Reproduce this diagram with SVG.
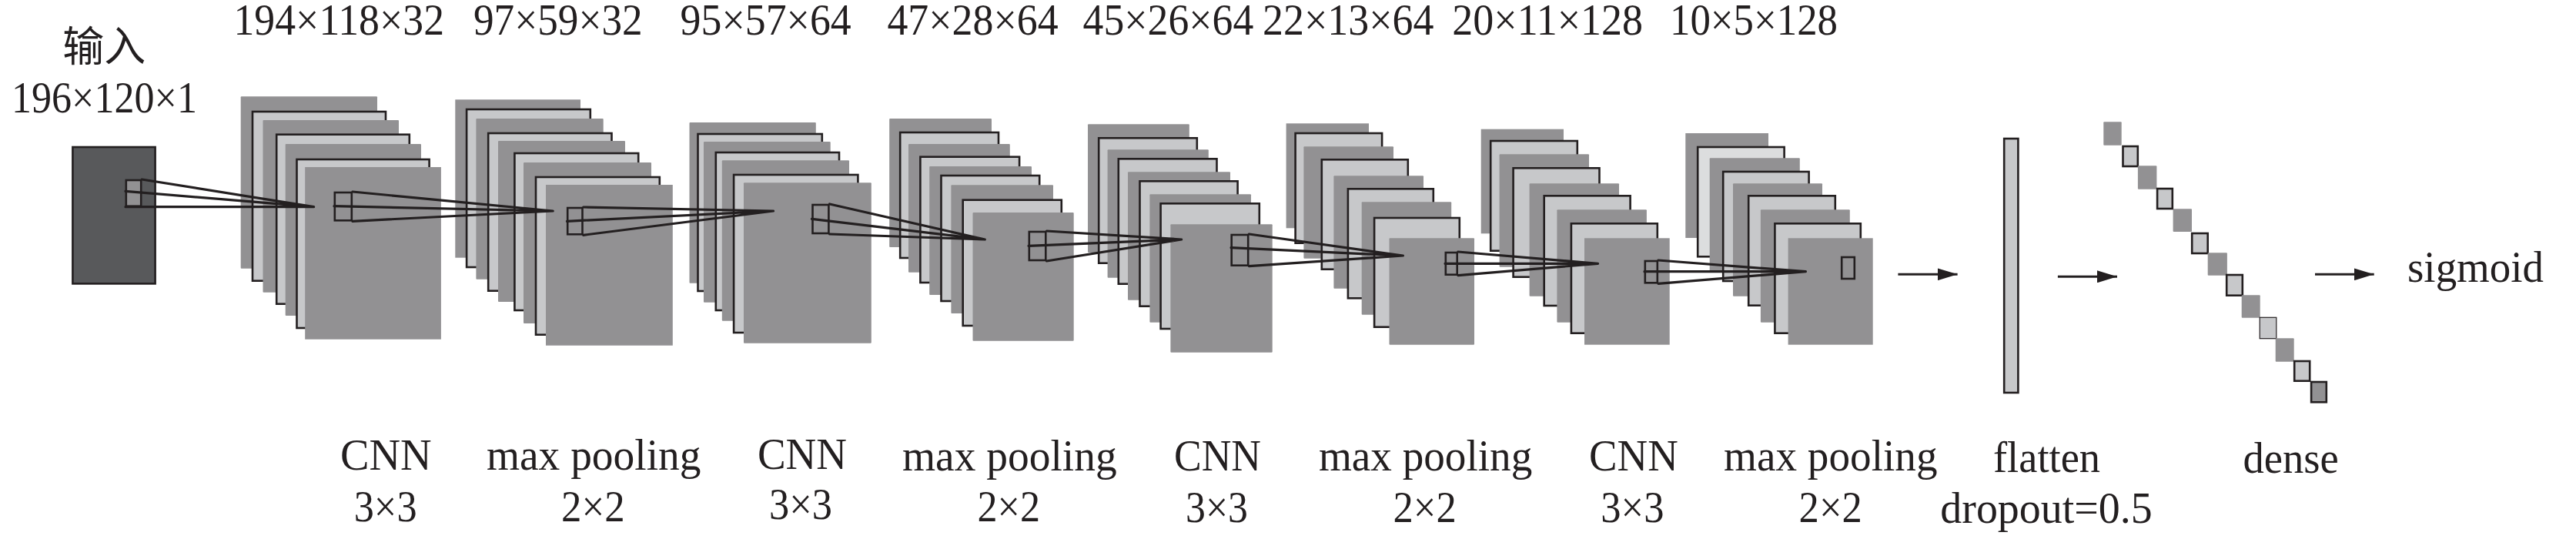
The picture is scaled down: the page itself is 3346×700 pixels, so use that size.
<svg xmlns="http://www.w3.org/2000/svg" width="3346" height="700" viewBox="0 0 3346 700">
<style>
.bg{fill:#fff}
.d{fill:#929193}
.l{fill:#c7c8ca;stroke:#231f20;stroke-width:2.6}
.xl{fill:#dcddde;stroke:#231f20;stroke-width:2.6}
.k{fill:#929193;stroke:#231f20;stroke-width:2.6}
.in{fill:#58595b;stroke:#231f20;stroke-width:2.6}
.thin{fill:#c7c8ca;stroke:#231f20;stroke-width:1.2}
.w{fill:none;stroke:#231f20;stroke-width:3.2;stroke-linecap:round}
.a{fill:none;stroke:#231f20;stroke-width:3;marker-end:url(#ah)}
text{font-family:"Liberation Serif","Noto Sans CJK SC",serif;font-size:56px;fill:#231f20}
.cjk{font-family:"Noto Sans CJK SC","Liberation Serif",serif;font-size:54px}
</style>
<defs><marker id="ah" markerUnits="userSpaceOnUse" markerWidth="26" markerHeight="16" refX="26" refY="8" orient="auto"><path d="M0 0L26 8L0 16Z" fill="#231f20"/></marker></defs>
<rect class="bg" width="3346" height="700"/>

<g id="input">
<rect class="in" x="94.4" y="191" width="107.2" height="177.4"/>
<rect class="k" x="163.8" y="234" width="19.4" height="33.7"/>
</g>

<g id="stack1">
<rect class="d" x="312.7" y="125.3" width="177.3" height="223.4" rx="1"/>
<rect class="l" x="328" y="145" width="173" height="219.7"/>
<rect class="d" x="341.5" y="156" width="176.5" height="223.7" rx="1"/>
<rect class="l" x="359.2" y="174.7" width="172.6" height="220"/>
<rect class="d" x="370.7" y="187" width="176.3" height="223" rx="1"/>
<rect class="l" x="385.5" y="207" width="172.1" height="219"/>
<rect class="d" x="396.2" y="217" width="176.7" height="223.7"/>
<rect class="k" x="434.8" y="250" width="22" height="36.3"/>
</g>

<g id="stack2">
<rect class="d" x="591.3" y="129.3" width="162.7" height="205.4"/>
<rect class="l" x="606.1" y="142" width="160.7" height="205"/>
<rect class="d" x="618.4" y="154" width="165.3" height="208.7" rx="1"/>
<rect class="l" x="634.2" y="173" width="160.3" height="204.7"/>
<rect class="d" x="647" y="183" width="165" height="209" rx="1"/>
<rect class="l" x="668.4" y="199" width="160.8" height="204"/>
<rect class="d" x="680" y="211" width="166" height="209" rx="1"/>
<rect class="l" x="696" y="230" width="160.8" height="204.7"/>
<rect class="d" x="709" y="240" width="164.8" height="208.7"/>
<rect class="k" x="737.2" y="270" width="19.3" height="34.3"/>
</g>

<g id="stack3">
<rect class="d" x="895.5" y="159" width="164.3" height="208.7" rx="1"/>
<rect class="l" x="906.5" y="174" width="161.3" height="204"/>
<rect class="d" x="914" y="184" width="164.7" height="208.7" rx="1"/>
<rect class="l" x="929.8" y="198" width="160.2" height="205"/>
<rect class="d" x="937.8" y="208.3" width="165.2" height="208.4" rx="1"/>
<rect class="l" x="953.1" y="227" width="161.3" height="205"/>
<rect class="d" x="966" y="237.3" width="165.8" height="208.4" rx="1"/>
<rect class="k" x="1055.5" y="266" width="20.9" height="37"/>
</g>

<g id="stack4">
<rect class="d" x="1155.2" y="154" width="132.8" height="167" rx="1"/>
<rect class="l" x="1169.2" y="172" width="127.8" height="163"/>
<rect class="d" x="1180" y="187" width="131.8" height="166.7" rx="1"/>
<rect class="l" x="1195.4" y="203.7" width="128.7" height="163.3"/>
<rect class="d" x="1207.2" y="216" width="132.8" height="167" rx="1"/>
<rect class="l" x="1222.5" y="228" width="127.7" height="163"/>
<rect class="d" x="1235.4" y="240.3" width="132.6" height="166.7" rx="1"/>
<rect class="l" x="1250.7" y="259.7" width="128.1" height="163.3"/>
<rect class="d" x="1263.5" y="276" width="131.2" height="166.7" rx="1"/>
<rect class="k" x="1336.8" y="301" width="21.5" height="37"/>
</g>

<g id="stack5">
<rect class="d" x="1413" y="161.3" width="131.8" height="166.7" rx="1"/>
<rect class="l" x="1427.2" y="179.3" width="127.6" height="162.4"/>
<rect class="d" x="1438.6" y="194.3" width="131.2" height="166.4" rx="1"/>
<rect class="l" x="1452.8" y="206.3" width="127.7" height="162.4"/>
<rect class="d" x="1465" y="223.3" width="133" height="166.4" rx="1"/>
<rect class="l" x="1480.5" y="235.3" width="127.1" height="162.4"/>
<rect class="d" x="1493.4" y="252.3" width="131.6" height="166.4" rx="1"/>
<rect class="l" x="1507.6" y="264.3" width="128.2" height="162.7"/>
<rect class="d" x="1520.4" y="291.3" width="132.3" height="166.4" rx="1"/>
<rect class="k" x="1599.7" y="305" width="21.5" height="39.7"/>
</g>

<g id="stack6">
<rect class="d" x="1670.6" y="160.3" width="107.4" height="136"/>
<rect class="l" x="1682.6" y="173" width="112.5" height="142.7"/>
<rect class="d" x="1693.4" y="190.3" width="116.6" height="145.4" rx="1"/>
<rect class="l" x="1716.8" y="207.3" width="112" height="142.4"/>
<rect class="d" x="1732.4" y="228.3" width="116.6" height="146.4" rx="1"/>
<rect class="l" x="1750.9" y="245.3" width="110.9" height="142"/>
<rect class="d" x="1768.7" y="262.3" width="116.5" height="146.4" rx="1"/>
<rect class="l" x="1785.1" y="283" width="110.7" height="141.7"/>
<rect class="d" x="1804.5" y="309.3" width="110.5" height="138.4" rx="1"/>
<rect class="k" x="1877.8" y="328" width="14.9" height="28.7"/>
</g>

<g id="stack7">
<rect class="d" x="1923.7" y="167.7" width="107.3" height="135.6"/>
<rect class="l" x="1936.2" y="183" width="112.6" height="142.7"/>
<rect class="d" x="1947.6" y="200.3" width="116.4" height="146.4" rx="1"/>
<rect class="l" x="1965.6" y="218.3" width="111.9" height="141.4"/>
<rect class="d" x="1986.6" y="238.3" width="116.4" height="146.4" rx="1"/>
<rect class="l" x="2005.7" y="254.3" width="111.9" height="142.7"/>
<rect class="d" x="2022.4" y="272.3" width="116.5" height="146.4" rx="1"/>
<rect class="l" x="2040.9" y="290.3" width="111.9" height="142.4"/>
<rect class="d" x="2058" y="309.3" width="110.7" height="138.4"/>
<rect class="k" x="2136.8" y="339" width="16" height="28.3"/>
</g>

<g id="stack8">
<rect class="d" x="2189.3" y="173" width="107.7" height="136"/>
<rect class="xl" x="2205.2" y="191" width="112.4" height="142.3"/>
<rect class="d" x="2220.7" y="205.3" width="117.1" height="146.4" rx="1"/>
<rect class="l" x="2238.2" y="223" width="111.4" height="142"/>
<rect class="d" x="2251" y="238.3" width="116" height="146.4" rx="1"/>
<rect class="l" x="2271.2" y="254.3" width="112.6" height="142.4"/>
<rect class="d" x="2286.9" y="272.3" width="115.9" height="146.4" rx="1"/>
<rect class="l" x="2305.4" y="290.3" width="111.4" height="142.4"/>
<rect class="d" x="2322.6" y="309.3" width="110.1" height="138.4"/>
<rect class="k" x="2392.2" y="334" width="16.6" height="28"/>
</g>

<g id="flatten">
<rect class="l" x="2603.2" y="180" width="18.2" height="330"/>
</g>

<g id="dense">
<rect class="d" x="2732.3" y="158.3" width="23.4" height="30.4" rx="1"/>
<rect class="l" x="2757.5" y="190" width="19.3" height="26"/>
<rect class="d" x="2776.9" y="215.3" width="24.5" height="30.4" rx="1"/>
<rect class="l" x="2802.1" y="245" width="19.7" height="26"/>
<rect class="d" x="2822.6" y="271.3" width="24.4" height="29.7" rx="1"/>
<rect class="l" x="2847.2" y="303" width="20.5" height="26"/>
<rect class="d" x="2867.7" y="328.3" width="25.2" height="29.4" rx="1"/>
<rect class="l" x="2892.2" y="357" width="20.6" height="26.7"/>
<rect class="d" x="2911.7" y="383.3" width="24" height="29.4" rx="1"/>
<rect class="thin" x="2935.2" y="412.3" width="21.6" height="27.4"/>
<rect class="d" x="2955.7" y="439.3" width="24" height="30.4" rx="1"/>
<rect class="l" x="2980.2" y="469" width="20" height="25.7"/>
<rect class="k" x="3002.1" y="496" width="19.7" height="26.3"/>
</g>

<g id="connectors">
<path class="w" d="M163 248.3L407.6 268.7M163 268.7H407.6M184.3 233L407.6 268.7"/>
<path class="w" d="M458 249L718.2 274M434 267.7L718.2 274M458 287.3L718.2 274"/>
<path class="w" d="M757.7 269L1004.5 274M736.5 287.3L1004.5 274M757.7 305.3L1004.5 274"/>
<path class="w" d="M1077.6 265L1279.3 311M1054.5 284.3L1279.3 311M1077.6 304L1279.3 311"/>
<path class="w" d="M1359.5 300L1534.6 311M1336 319.3L1534.6 311M1359.5 339L1534.6 311"/>
<path class="w" d="M1622.4 304L1822.4 332M1599 321.7L1822.4 332M1622.4 345.7L1822.4 332"/>
<path class="w" d="M1893.9 327L2075.5 342.3M1877 342.3H2075.5M1893.9 357.7L2075.5 342.3"/>
<path class="w" d="M2154 338L2345.4 352.7M2136 352.7H2345.4M2154 368.3L2345.4 352.7"/>
<line class="a" x1="2465.4" y1="356.3" x2="2542.6" y2="356.3"/>
<line class="a" x1="2672.9" y1="359.3" x2="2750" y2="359.3"/>
<line class="a" x1="3007" y1="356.3" x2="3083.7" y2="356.3"/>
</g>

<g id="labels">
<text class="cjk" x="81.3" y="80" textLength="108" lengthAdjust="spacingAndGlyphs">输入</text>
<text x="15" y="145.7" textLength="241" lengthAdjust="spacingAndGlyphs">196×120×1</text>
<text x="303.5" y="45" textLength="273.5" lengthAdjust="spacingAndGlyphs">194×118×32</text>
<text x="615" y="45" textLength="219.7" lengthAdjust="spacingAndGlyphs">97×59×32</text>
<text x="883.6" y="45" textLength="222.2" lengthAdjust="spacingAndGlyphs">95×57×64</text>
<text x="1152.4" y="45" textLength="222.3" lengthAdjust="spacingAndGlyphs">47×28×64</text>
<text x="1406.6" y="45" textLength="221.7" lengthAdjust="spacingAndGlyphs">45×26×64</text>
<text x="1640" y="45" textLength="222.5" lengthAdjust="spacingAndGlyphs">22×13×64</text>
<text x="1886.3" y="45" textLength="247.7" lengthAdjust="spacingAndGlyphs">20×11×128</text>
<text x="2169" y="45" textLength="218" lengthAdjust="spacingAndGlyphs">10×5×128</text>
<text x="3127" y="366" textLength="177" lengthAdjust="spacingAndGlyphs">sigmoid</text>
<text x="442" y="610" textLength="118.7" lengthAdjust="spacingAndGlyphs">CNN</text>
<text x="459.7" y="676.7" textLength="81.9" lengthAdjust="spacingAndGlyphs">3×3</text>
<text x="631.9" y="610" textLength="278.6" lengthAdjust="spacingAndGlyphs">max pooling</text>
<text x="729" y="677" textLength="82.7" lengthAdjust="spacingAndGlyphs">2×2</text>
<text x="983.9" y="608.7" textLength="116.1" lengthAdjust="spacingAndGlyphs">CNN</text>
<text x="999" y="674.3" textLength="82" lengthAdjust="spacingAndGlyphs">3×3</text>
<text x="1172" y="610.7" textLength="278.7" lengthAdjust="spacingAndGlyphs">max pooling</text>
<text x="1269.4" y="677" textLength="81.6" lengthAdjust="spacingAndGlyphs">2×2</text>
<text x="1525" y="611" textLength="113" lengthAdjust="spacingAndGlyphs">CNN</text>
<text x="1540" y="677.7" textLength="81" lengthAdjust="spacingAndGlyphs">3×3</text>
<text x="1712.9" y="611" textLength="277.4" lengthAdjust="spacingAndGlyphs">max pooling</text>
<text x="1809.5" y="677.7" textLength="82.3" lengthAdjust="spacingAndGlyphs">2×2</text>
<text x="2064" y="611" textLength="115.7" lengthAdjust="spacingAndGlyphs">CNN</text>
<text x="2079.3" y="677.7" textLength="82.3" lengthAdjust="spacingAndGlyphs">3×3</text>
<text x="2239" y="611" textLength="277.5" lengthAdjust="spacingAndGlyphs">max pooling</text>
<text x="2336.6" y="677.7" textLength="82.3" lengthAdjust="spacingAndGlyphs">2×2</text>
<text x="2589" y="612.7" textLength="139" lengthAdjust="spacingAndGlyphs">flatten</text>
<text x="2520.3" y="679" textLength="275.5" lengthAdjust="spacingAndGlyphs">dropout=0.5</text>
<text x="2913.5" y="614.3" textLength="124.3" lengthAdjust="spacingAndGlyphs">dense</text>
</g>
</svg>
